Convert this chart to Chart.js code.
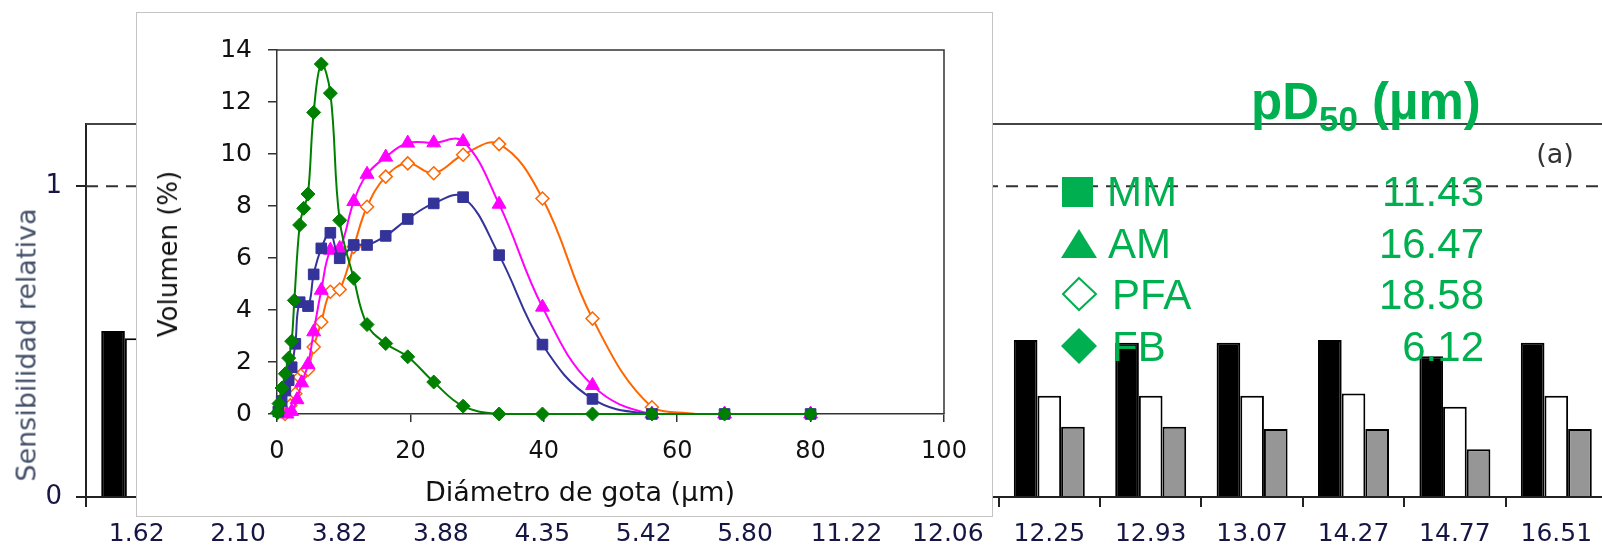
<!DOCTYPE html>
<html>
<head>
<meta charset="utf-8">
<script src="https://cdn.jsdelivr.net/npm/chart.js@4.4.1/dist/chart.umd.min.js"></script>
<style>
  html, body { margin: 0; padding: 0; background: #fff; }
  body { width: 1602px; height: 547px; overflow: hidden; position: relative; font-family: "DejaVu Sans", sans-serif; }
  #bars { position: absolute; left: 0; top: 0; }
  #inset { position: absolute; left: 136px; top: 12px; width: 857px; height: 505px; box-sizing: border-box; border: 1px solid #c4c4c4; background: #fff; }
  #curves { position: absolute; left: 0; top: 0; }
  .title { position: absolute; white-space: nowrap; line-height: 1; transform: translate(-50%, -50%); }
  .vert { transform: translate(-50%, -50%) rotate(-90deg); }
  .green { position: absolute; color: #00b050; font-family: "Liberation Sans", Arial, sans-serif; white-space: nowrap; line-height: 1; }
  .mark { position: absolute; }
</style>
</head>
<body>
<canvas id="bars" width="1607" height="547"></canvas>
<div id="inset"><canvas id="curves" width="855" height="503"></canvas></div>

<div class="title vert" style="left:26px; top:345px; font-size:27px; color:#44506a;">Sensibilidad relativa</div>
<div class="title vert" style="left:168px; top:254px; font-size:26px; color:#111;">Volumen (%)</div>
<div class="title" style="left:580px; top:491px; font-size:27px; color:#111;">Diámetro de gota (µm)</div>
<div class="title" style="left:1555px; top:153px; font-size:27px; color:#333;">(a)</div>

<div class="green" style="left:1251px; top:76px; font-size:51px; font-weight:bold;">pD<span style="font-size:35px; position:relative; top:12px;">50</span> (µm)</div>

<svg class="mark" style="left:1062px; top:177px;" width="32" height="31"><rect x="0" y="0" width="31" height="30" fill="#00b050"/></svg>
<svg class="mark" style="left:1061px; top:228px;" width="37" height="32"><polygon points="18,1 36,30 0,30" fill="#00b050"/></svg>
<svg class="mark" style="left:1061px; top:276px;" width="37" height="36"><polygon points="18,2 35,18 18,34 2,18" fill="#fff" stroke="#00b050" stroke-width="2"/></svg>
<svg class="mark" style="left:1061px; top:328px;" width="37" height="36"><polygon points="18,0 36,18 18,36 0,18" fill="#00b050"/></svg>

<div class="green" style="left:1107px; top:171px; font-size:42px;">MM</div>
<div class="green" style="left:1108px; top:223px; font-size:42px;">AM</div>
<div class="green" style="left:1112px; top:274px; font-size:42px;">PFA</div>
<div class="green" style="left:1112px; top:326px; font-size:42px;">FB</div>
<div class="green" style="right:118px; top:171px; font-size:42px; text-align:right;">11.43</div>
<div class="green" style="right:118px; top:223px; font-size:42px; text-align:right;">16.47</div>
<div class="green" style="right:118px; top:274px; font-size:42px; text-align:right;">18.58</div>
<div class="green" style="right:118px; top:326px; font-size:42px; text-align:right;">6.12</div>

<script>
// background bar chart: relative sensitivity per pD50 category
var categories = ['1.62', '2.10', '3.82', '3.88', '4.35', '5.42', '5.80', '11.22', '12.06', '12.25', '12.93', '13.07', '14.27', '14.77', '16.51'];
var blackBars = [0.534, 0.52, 0.51, 0.50, 0.50, 0.49, 0.50, 0.51, 0.50, 0.505, 0.496, 0.496, 0.505, 0.453, 0.496];
var whiteBars = [0.511, 0.42, 0.36, 0.35, 0.34, 0.33, 0.33, 0.33, 0.33, 0.326, 0.326, 0.326, 0.333, 0.290, 0.326];
var grayBars = [0.40, 0.30, 0.24, 0.24, 0.23, 0.22, 0.22, 0.23, 0.22, 0.226, 0.226, 0.219, 0.219, 0.154, 0.219];
var sensTicks = [0, 1];
var refValue = 1;

// inset: droplet size distributions (diameter um, volume %)
var mmX = [0.2, 0.7, 1.25, 1.75, 2.2, 2.75, 3.4, 4.65, 5.5, 6.64, 8.0, 9.4, 11.5, 13.5, 16.3, 19.6, 23.5, 27.9, 33.3, 39.8, 47.3, 56.2, 67.1, 80.0];
var mmY = [0.1, 0.5, 0.9, 1.3, 1.8, 2.7, 4.3, 4.15, 5.37, 6.37, 6.97, 5.99, 6.5, 6.5, 6.85, 7.5, 8.1, 8.34, 6.11, 2.67, 0.58, 0, 0, 0];
var amX = [1.5, 2.2, 3.0, 3.7, 4.65, 5.5, 6.64, 8.0, 9.4, 11.5, 13.5, 16.3, 19.6, 23.5, 27.9, 33.3, 39.8, 47.3, 56.2, 67.1, 80.0];
var amY = [0, 0.1, 0.55, 1.2, 1.9, 3.16, 4.76, 6.3, 6.37, 8.17, 9.22, 9.88, 10.42, 10.43, 10.48, 8.07, 4.11, 1.1, 0, 0, 0];
var pfaX = [1.2, 2.0, 2.75, 3.4, 4.0, 4.65, 5.5, 6.64, 8.0, 9.4, 11.5, 13.5, 16.3, 19.6, 23.5, 27.9, 33.3, 39.8, 47.3, 56.2, 62.7];
var pfaY = [0, 0.33, 0.78, 1.42, 1.6, 1.7, 2.58, 3.54, 4.7, 4.79, 6.43, 7.97, 9.13, 9.64, 9.26, 9.97, 10.38, 8.29, 3.67, 0.26, 0];
var fbX = [0.1, 0.3, 0.75, 1.25, 1.75, 2.2, 2.6, 3.4, 4.0, 4.65, 5.5, 6.64, 8.0, 9.4, 11.5, 13.5, 16.3, 19.6, 23.5, 27.9, 33.3, 39.8, 47.3, 56.2, 67.1, 80.0];
var fbY = [0.05, 0.4, 1.0, 1.55, 2.15, 2.8, 4.37, 7.27, 7.91, 8.46, 11.6, 13.46, 12.34, 7.45, 5.22, 3.44, 2.71, 2.2, 1.23, 0.3, 0, 0, 0, 0, 0, 0];

Chart.defaults.font.family = '"DejaVu Sans", sans-serif';

var toPoints = function(xs, ys) {
  return xs.map(function(x, i) { return { x: x, y: ys[i] }; });
};

// dashed line at 1 and the top edge of the plot
var refLines = {
  id: 'refLines',
  beforeDatasetsDraw: function(chart) {
    var ctx = chart.ctx;
    var area = chart.chartArea;
    var y1 = chart.scales.y.getPixelForValue(refValue);
    ctx.save();
    ctx.strokeStyle = '#333';
    ctx.lineWidth = 2;
    ctx.setLineDash([12, 8]);
    ctx.beginPath();
    ctx.moveTo(area.left, y1);
    ctx.lineTo(area.right, y1);
    ctx.stroke();
    ctx.setLineDash([]);
    ctx.strokeStyle = '#444';
    ctx.beginPath();
    ctx.moveTo(area.left, area.top);
    ctx.lineTo(area.right, area.top);
    ctx.stroke();
    ctx.restore();
  }
};

// top and right border of the inset plot
var frame = {
  id: 'frame',
  beforeDatasetsDraw: function(chart) {
    var ctx = chart.ctx;
    var area = chart.chartArea;
    ctx.save();
    ctx.strokeStyle = '#333';
    ctx.lineWidth = 1.5;
    ctx.beginPath();
    ctx.moveTo(area.left, area.top);
    ctx.lineTo(area.right, area.top);
    ctx.lineTo(area.right, area.bottom);
    ctx.stroke();
    ctx.restore();
  }
};

var navy = '#161645';

new Chart(document.getElementById('bars'), {
  type: 'bar',
  data: {
    labels: categories,
    datasets: [
      { data: blackBars, backgroundColor: '#000', borderColor: '#000', borderWidth: 2 },
      { data: whiteBars, backgroundColor: '#fff', borderColor: '#000', borderWidth: 2 },
      { data: grayBars, backgroundColor: '#969696', borderColor: '#000', borderWidth: 2 }
    ]
  },
  options: {
    responsive: false,
    animation: false,
    devicePixelRatio: 1,
    datasets: { bar: { barPercentage: 1, categoryPercentage: 0.7 } },
    layout: { padding: { top: 124, left: 0, right: 0, bottom: 0 } },
    plugins: { legend: { display: false }, tooltip: { enabled: false } },
    scales: {
      x: {
        ticks: { color: navy, font: { size: 25 }, padding: 12, maxRotation: 0, autoSkip: false },
        grid: { drawOnChartArea: false, tickLength: 10, color: '#222', lineWidth: 2 },
        border: { color: '#222', width: 2 },
        afterFit: function(s) { s.height = 50; }
      },
      y: {
        min: 0,
        max: 1.2,
        afterBuildTicks: function(s) { s.ticks = sensTicks.map(function(v) { return { value: v }; }); },
        ticks: { color: navy, font: { size: 26 }, padding: 14 },
        grid: { drawOnChartArea: false, tickLength: 10, color: '#222', lineWidth: 2 },
        border: { color: '#222', width: 2 },
        afterFit: function(s) { s.width = 86; }
      }
    }
  },
  plugins: [refLines]
});

new Chart(document.getElementById('curves'), {
  type: 'line',
  data: {
    datasets: [
      { label: 'FB', data: toPoints(fbX, fbY), borderColor: '#008000', backgroundColor: '#008000',
        pointStyle: 'rectRot', pointRadius: 7, pointBorderWidth: 1 },
      { label: 'MM', data: toPoints(mmX, mmY), borderColor: '#333399', backgroundColor: '#333399',
        pointStyle: 'rect', pointRadius: 7.5, pointBorderWidth: 1 },
      { label: 'AM', data: toPoints(amX, amY), borderColor: '#ff00ff', backgroundColor: '#ff00ff',
        pointStyle: 'triangle', pointRadius: 8, pointBorderWidth: 1 },
      { label: 'PFA', data: toPoints(pfaX, pfaY), borderColor: '#ff6600', backgroundColor: '#fff',
        pointStyle: 'rectRot', pointRadius: pfaX.map(function(x, i) { return i === pfaX.length - 1 ? 0 : 6.5; }),
        pointBorderWidth: 1.5 }
    ]
  },
  options: {
    responsive: false,
    animation: false,
    devicePixelRatio: 1,
    clip: false,
    elements: { line: { borderWidth: 2, tension: 0.4 } },
    layout: { padding: { top: 37, right: 48, left: 0, bottom: 0 } },
    plugins: { legend: { display: false }, tooltip: { enabled: false } },
    scales: {
      x: {
        type: 'linear',
        min: 0,
        max: 100,
        ticks: { stepSize: 20, color: '#111', font: { size: 24 }, padding: 15, maxRotation: 0 },
        grid: { drawOnChartArea: false, tickLength: 8, color: '#333', lineWidth: 1.5 },
        border: { color: '#333', width: 1.5 },
        afterFit: function(s) { s.height = 102; }
      },
      y: {
        min: 0,
        max: 14,
        ticks: { stepSize: 2, color: '#111', font: { size: 25 }, padding: 16 },
        grid: { drawOnChartArea: false, tickLength: 9, color: '#333', lineWidth: 1.5 },
        border: { color: '#333', width: 1.5 },
        afterFit: function(s) { s.width = 140; }
      }
    }
  },
  plugins: [frame]
});
</script>
</body>
</html>
